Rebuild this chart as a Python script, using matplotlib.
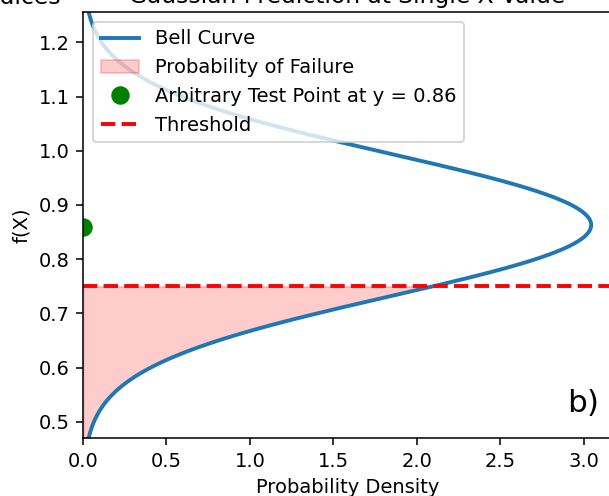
import numpy as np
import matplotlib
matplotlib.use("Agg")
import matplotlib.pyplot as plt

# gaussian prediction at one x location
mu = 0.863
sigma = 0.131
threshold = 0.75
test_y = 0.86
x_ticks = [0.0, 0.5, 1.0, 1.5, 2.0, 2.5, 3.0]
y_ticks = [0.5, 0.6, 0.7, 0.8, 0.9, 1.0, 1.1, 1.2]

y = np.linspace(mu - 3 * sigma, mu + 3 * sigma, 400)
pdf = np.exp(-0.5 * ((y - mu) / sigma) ** 2) / (sigma * np.sqrt(2 * np.pi))

fig = plt.figure(figsize=(609 / 140, 496 / 140), dpi=140)
ax = fig.add_axes([83 / 609, 58 / 496, 529 / 609, 426 / 496])

ax.plot(pdf, y, color="tab:blue", lw=2, label="Bell Curve")
fail = y <= threshold
ax.fill_betweenx(y[fail], 0, pdf[fail], color="red", alpha=0.2,
                 label="Probability of Failure")
ax.plot(0, test_y, "o", color="green", markersize=8.5,
        label=f"Arbitrary Test Point at y = {test_y:.2f}")
ax.axhline(threshold, color="red", linestyle="--", lw=2, label="Threshold")

ax.set_xlim(0, 3.17)
ax.set_ylim(y[0], y[-1])
ax.set_xticks(x_ticks)
ax.set_yticks(y_ticks)
ax.set_xlabel("Probability Density")
ax.set_ylabel("f(X)")
ax.set_title("Gaussian Prediction at Single X Value", pad=4.5)
ax.legend(loc="upper left")
ax.text(0.975, 0.048, "b)", transform=ax.transAxes, ha="right", va="bottom",
        fontsize=16)

# tail of the neighbouring panel's title
fig.text(61 / 609, 1 - 4 / 496, "Indices", ha="right", va="baseline",
         fontsize=12)

fig.savefig("out.png", dpi=140)
